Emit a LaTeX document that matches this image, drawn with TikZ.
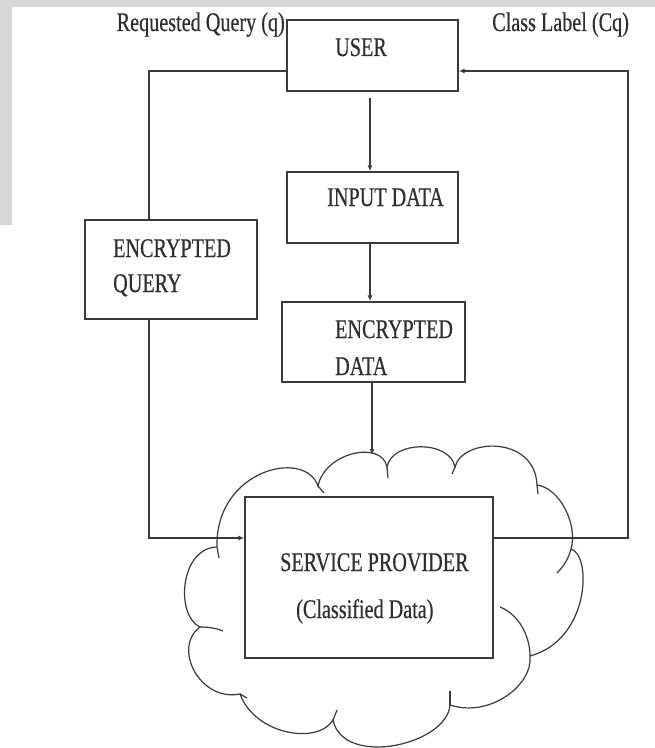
\documentclass[tikz,border=0pt]{standalone}
\usepackage{fontspec}
\setmainfont{Liberation Serif}[FakeStretch=0.75, FakeBold=0.4]
\usetikzlibrary{arrows.meta}
\definecolor{ink}{HTML}{3A3A3A}
\definecolor{txt}{HTML}{2E2E2E}
\definecolor{wm}{HTML}{D8D8D8}
\tikzset{
  box/.style={draw=ink, line width=1.4bp, fill=white, inner sep=0pt},
  lbl/.style={inner sep=0pt, text=txt, font=\fontsize{27}{32}\selectfont},
  wire/.style={draw=ink, line width=1.4bp},
  flow/.style={wire, -{Latex[length=6bp,width=5bp]}},
  puff/.style={draw=ink, line width=1.2bp},
}
\begin{document}
\begin{tikzpicture}[x=1bp, y=-1bp]
\useasboundingbox (0,0) rectangle (655,748);
% page background with grey edge bands
\fill[white] (0,0) rectangle (655,748);
\fill[wm] (0,0) rectangle (655,7);
\fill[wm] (0,0) rectangle (12,225);

% cloud outline
\draw[puff, fill=white] (217,547)
  .. controls (215,470) and (305,448) .. (318,486)
  .. controls (325,452) and (382,440) .. (387,467)
  .. controls (392,440) and (450,440) .. (455,467)
  .. controls (462,438) and (535,435) .. (537,485)
  .. controls (560,488) and (578,525) .. (571,549)
  .. controls (592,555) and (590,640) .. (530,656)
  .. controls (533,685) and (490,718) .. (450,705)
  .. controls (447,745) and (343,768) .. (333,720)
  .. controls (318,745) and (255,735) .. (240,694)
  .. controls (200,702) and (172,648) .. (200,627)
  .. controls (175,615) and (180,548) .. (217,547) -- cycle;
% inner ends of the puffs
\draw[puff] (217,547) -- (219,558);
\draw[puff] (318,486) -- (324,493);
\draw[puff] (387,467) -- (388,478);
\draw[puff] (455,467) -- (452,474);
\draw[puff] (537,485) -- (538,494);
\draw[puff] (571,549) .. controls (568,560) and (563,567) .. (557,573);
\draw[puff] (530,656) .. controls (530,635) and (518,614) .. (500,607);
\draw[puff] (450,705) -- (450,691);
\draw[puff] (333,720) -- (337,710);
\draw[puff] (240,694) -- (247,698);
\draw[puff] (200,627) .. controls (208,627) and (216,628) .. (223,631);
\coordinate (cloudtop) at (372,455);

% boxes
\node[box, minimum width=171bp, minimum height=71bp]  (user) at (372.5,55.5) {};
\node[box, minimum width=171bp, minimum height=71bp]  (input) at (372.5,207.5) {};
\node[box, minimum width=172bp, minimum height=99bp]  (eq) at (171,269.5) {};
\node[box, minimum width=183bp, minimum height=80bp]  (ed) at (373.5,342) {};
\node[box, minimum width=248bp, minimum height=161bp] (sp) at (369,577.5) {};

% texts
\node[lbl, anchor=base east] (reqq) at (285,31) {Requested Query (q)};
\node[lbl, anchor=base west] (cls) at (492,31) {Class Label (Cq)};
\node[lbl, anchor=base west] (usert) at (335,56) {USER};
\node[lbl, anchor=base west] (inputt) at (327,206) {INPUT DATA};
\node[lbl, anchor=base west] (eqa) at (113,257) {ENCRYPTED};
\node[lbl, anchor=base west] (eqb) at (113,292) {QUERY};
\node[lbl, anchor=base west] (eda) at (335,338) {ENCRYPTED};
\node[lbl, anchor=base west] (edb) at (335,375) {DATA};
\node[lbl, anchor=base west] (spa) at (280,571) {SERVICE PROVIDER};
\node[lbl, anchor=base west] (spb) at (296,618) {(Classified Data)};

% connectors
\coordinate (qturn) at (149,71);
\coordinate (qdown) at (149,538);
\coordinate (rdown) at (628,538);
\coordinate (rtop) at (628,71);
\coordinate (vx) at (370,0);
\coordinate (vy) at (372,0);
\draw[wire] (qturn -| user.west) -- (qturn) -- (qturn |- eq.north);
\draw[flow] (qturn |- eq.south) -- (qdown) -- (qdown -| sp.west);
\draw[flow] (rdown -| sp.east) -- (rdown) -- (rtop) -- (rtop -| user.east);
\draw[flow, shorten <=6bp] (vx |- user.south) -- (vx |- input.north);
\draw[flow] (vx |- input.south) -- (vx |- ed.north);
\draw[flow] (vy |- ed.south) -- (cloudtop);
\end{tikzpicture}
\end{document}
